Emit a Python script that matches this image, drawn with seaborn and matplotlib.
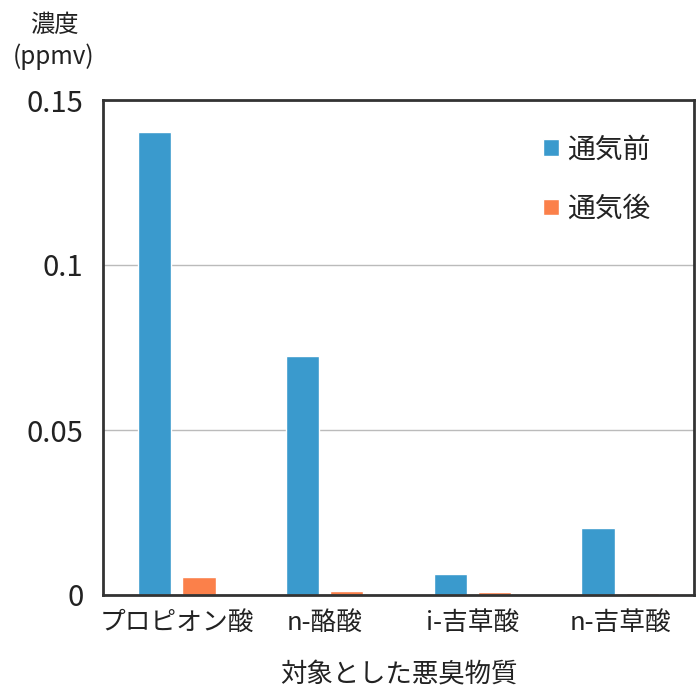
import pandas as pd
import matplotlib.pyplot as plt
import seaborn as sns

# ── Data ────────────────────────────────────────────────
categories = ['プロピオン酸', 'n-酪酸', 'i-吉草酸', 'n-吉草酸']
before = [0.1403, 0.0723, 0.0064, 0.0203]
after = [0.0054, 0.0013, 0.0009, 0.0007]
series = ['通気前', '通気後']
yticks = [0, 0.05, 0.1, 0.15]
ytick_labels = ['0', '0.05', '0.1', '0.15']

df = pd.DataFrame({
    'cat': categories * 2,
    'val': before + after,
    'series': [series[0]] * 4 + [series[1]] * 4,
})

sns.set_theme(style='white')
plt.rcParams['font.family'] = ['Noto Sans CJK JP', 'DejaVu Sans']

fig = plt.figure(figsize=(6.98, 6.95), dpi=100)
ax = fig.add_axes([103 / 698, 100 / 695, 591 / 698, 495 / 695])

palette = {series[0]: '#3A9ACD', series[1]: '#FB804A'}
sns.barplot(data=df, x='cat', y='val', hue='series', palette=palette,
            width=0.6, gap=0.25, saturation=1, ax=ax, legend=True)

ax.set_ylim(0, 0.15)
ax.set_xlim(-0.5, 3.5)
ax.set_yticks(yticks)
ax.set_yticklabels(ytick_labels, fontsize=21, color='#222222')
ax.tick_params(axis='x', labelsize=18.5, colors='#222222', pad=11, length=0)
ax.tick_params(axis='y', pad=14, length=0)
ax.yaxis.grid(True, color='#bbbbbb', linewidth=1)
ax.set_axisbelow(True)
for s in ax.spines.values():
    s.set_color('#333333')
    s.set_linewidth(2)

ax.set_xlabel('対象とした悪臭物質', fontsize=19, color='#222222', labelpad=18)
ax.set_ylabel('')
fig.text(54 / 698, 1 - 41 / 695, '濃度\n(ppmv)', ha='center', va='center',
         fontsize=17.5, color='#222222', linespacing=1.25)

leg = ax.legend(loc='upper left', bbox_to_anchor=(0.745, 0.93), frameon=False,
                fontsize=20, handlelength=0.55, handleheight=0.55,
                labelspacing=1.05, handletextpad=0.3, borderpad=0,
                borderaxespad=0)
for t in leg.get_texts():
    t.set_color('#222222')

fig.savefig('out.png', dpi=100)
